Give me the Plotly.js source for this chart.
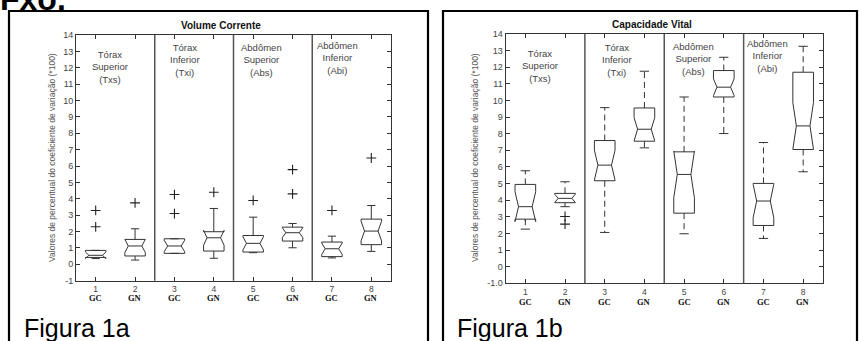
<!DOCTYPE html>
<html><head><meta charset="utf-8">
<script src="https://cdn.plot.ly/plotly-3.0.1.min.js"></script>
<style>html,body{margin:0;padding:0;background:#fff}</style>
</head><body><div id="chart" style="width:860px;height:341px"></div>
<script>
// ---------- data ----------
const categories = [1, 2, 3, 4, 5, 6, 7, 8];
const groupLabels = ['GC', 'GN', 'GC', 'GN', 'GC', 'GN', 'GC', 'GN'];
const yTickVals = [-1, 0, 1, 2, 3, 4, 5, 6, 7, 8, 9, 10, 11, 12, 13, 14];
const vcTickText = ['-1', '0', '1', '2', '3', '4', '5', '6', '7', '8', '9', '10', '11', '12', '13', '14'];
const cvTickText = ['-1.0', '0', '1', '2', '3', '4', '5', '6', '7', '8', '9', '10', '11', '12', '13', '14'];
const regionLabels = ['Tórax<br>Superior<br>(Txs)', 'Tórax<br>Inferior<br>(Txi)', 'Abdômen<br>Superior<br>(Abs)', 'Abdômen<br>Inferior<br>(Abi)'];
const separators = [2.5, 4.5, 6.5];

// Volume Corrente (Figura 1a)
const vcLower  = [0.38, 0.26, 0.67, 0.37, 0.71, 1.01, 0.39, 0.79];
const vcQ1     = [0.42, 0.51, 0.67, 0.81, 0.75, 1.42, 0.47, 1.20];
const vcMedian = [0.55, 1.12, 1.12, 1.62, 1.28, 1.93, 0.95, 2.03];
const vcQ3     = [0.85, 1.52, 1.56, 1.99, 1.76, 2.27, 1.36, 2.76];
const vcUpper  = [0.85, 2.17, 1.56, 3.41, 2.88, 2.49, 1.72, 3.59];
const vcNotch  = [0.20, 0.40, 0.35, 0.45, 0.40, 0.30, 0.35, 0.60];
const vcOutlierX = [1, 1, 2, 3, 3, 4, 5, 6, 6, 7, 8];
const vcOutlierY = [2.29, 3.29, 3.75, 3.10, 4.26, 4.40, 3.90, 4.30, 5.78, 3.29, 6.49];

// Capacidade Vital (Figura 1b)
const cvLower  = [2.26, 3.61, 2.06, 7.15, 1.98, 8.01, 1.70, 5.71];
const cvQ1     = [2.86, 3.85, 5.17, 7.55, 3.22, 10.21, 2.48, 7.05];
const cvMedian = [3.61, 4.11, 6.11, 8.27, 5.55, 10.80, 3.95, 8.47];
const cvQ3     = [4.95, 4.41, 7.59, 9.55, 6.91, 11.80, 5.01, 11.70];
const cvUpper  = [5.77, 5.11, 9.57, 11.76, 10.21, 12.60, 7.47, 13.26];
const cvNotch  = [0.90, 0.25, 0.90, 0.70, 1.40, 0.50, 1.00, 1.40];
const cvOutlierX = [2, 2];
const cvOutlierY = [2.56, 3.02];

// ---------- helpers ----------
const W = 860, H = 341;
const px = v => v / W;
const py = v => 1 - v / H;
const BOXW = 0.52;
const LINE = '#333';

function boxTrace(xa, ya, q1, med, q3, lo, hi, notch, whiskerW) {
  return {
    type: 'box', x: categories, q1: q1, median: med, q3: q3,
    lowerfence: lo, upperfence: hi, notchspan: notch, notched: true,
    notchwidth: 0.17, width: BOXW, whiskerwidth: whiskerW,
    line: { color: LINE, width: 1 }, fillcolor: 'rgba(255,255,255,0)',
    boxpoints: false, xaxis: xa, yaxis: ya, showlegend: false, hoverinfo: 'skip'
  };
}
function outlierTrace(xa, ya, xs, ys) {
  return {
    type: 'scatter', mode: 'markers', x: xs, y: ys, xaxis: xa, yaxis: ya,
    marker: { symbol: 'cross-thin-open', size: 7, color: '#222', line: { color: '#222', width: 1.1 } },
    showlegend: false, hoverinfo: 'skip'
  };
}
function dashedWhiskers(xa, ya, q1, q3, lo, hi) {
  const wx = [], wy = [], cx = [], cy = [];
  const h = BOXW * 0.45 / 2;
  categories.forEach((c, i) => {
    wx.push(c, c, null, c, c, null);
    wy.push(q3[i], hi[i], null, q1[i], lo[i], null);
    cx.push(c - h, c + h, null, c - h, c + h, null);
    cy.push(hi[i], hi[i], null, lo[i], lo[i], null);
  });
  return [
    { type: 'scatter', mode: 'lines', x: wx, y: wy, xaxis: xa, yaxis: ya,
      line: { color: LINE, width: 1, dash: '6px,4px' }, showlegend: false, hoverinfo: 'skip' },
    { type: 'scatter', mode: 'lines', x: cx, y: cy, xaxis: xa, yaxis: ya,
      line: { color: LINE, width: 1 }, showlegend: false, hoverinfo: 'skip' }
  ];
}

const data = [
  boxTrace('x', 'y', vcQ1, vcMedian, vcQ3, vcLower, vcUpper, vcNotch, 0.4),
  outlierTrace('x', 'y', vcOutlierX, vcOutlierY),
  boxTrace('x2', 'y2', cvQ1, cvMedian, cvQ3, cvQ1, cvQ3, cvNotch, 0),
  ...dashedWhiskers('x2', 'y2', cvQ1, cvQ3, cvLower, cvUpper),
  outlierTrace('x2', 'y2', cvOutlierX, cvOutlierY)
];

const tickFont = { family: 'Liberation Sans, Arial, sans-serif', size: 9, color: '#444' };
function xAxis(domain, anchor) {
  return {
    domain: domain, anchor: anchor, range: [0.5, 8.5],
    tickvals: categories, ticktext: categories.map(String),
    ticks: 'inside', ticklen: 4, tickcolor: LINE, mirror: 'ticks',
    showline: true, linecolor: LINE, linewidth: 1,
    showgrid: false, zeroline: false,
    tickfont: { family: 'Liberation Sans, Arial, sans-serif', size: 8.5, color: '#444' }, fixedrange: true
  };
}
function yAxis(domain, anchor, text) {
  return {
    domain: domain, anchor: anchor, range: [-1, 14],
    tickvals: yTickVals, ticktext: text,
    ticks: 'inside', ticklen: 4, tickcolor: LINE, mirror: 'ticks',
    showline: true, linecolor: LINE, linewidth: 1,
    showgrid: false, zeroline: false, tickfont: tickFont, fixedrange: true
  };
}

const shapes = [];
// panel frames
shapes.push({ type: 'rect', xref: 'paper', yref: 'paper', x0: px(9), x1: px(428), y0: -0.1, y1: py(11),
  line: { color: '#000', width: 2.2 } });
shapes.push({ type: 'rect', xref: 'paper', yref: 'paper', x0: px(443), x1: px(857), y0: -0.1, y1: py(11),
  line: { color: '#000', width: 2.2 } });
// region separators
[['x', 'y domain'], ['x2', 'y2 domain']].forEach(([xr, yr]) => {
  separators.forEach(s => shapes.push({ type: 'line', xref: xr, yref: yr, x0: s, x1: s, y0: 0, y1: 1,
    line: { color: '#555', width: 1.5 } }));
});

const annotations = [];
function note(o) {
  return Object.assign({ showarrow: false, xanchor: 'center', yanchor: 'middle' }, o);
}
const regFont = { family: 'Liberation Sans, Arial, sans-serif', size: 9.5, color: '#444' };
const vcRegPos = [[1.36, 12.06], [3.27, 12.47], [5.22, 12.47], [7.13, 12.6]];
const cvRegPos = [[1.38, 12.1], [3.31, 12.46], [5.23, 12.5], [7.09, 12.66]];
regionLabels.forEach((t, i) => {
  annotations.push(note({ xref: 'x', yref: 'y', x: vcRegPos[i][0], y: vcRegPos[i][1], text: t, font: regFont }));
  annotations.push(note({ xref: 'x2', yref: 'y2', x: cvRegPos[i][0], y: cvRegPos[i][1], text: t, font: regFont }));
});
// group labels under ticks
const grpFont = { family: 'Liberation Serif, Times New Roman, serif', size: 8.5, color: '#111' };
groupLabels.forEach((g, i) => {
  annotations.push(note({ xref: 'x', yref: 'paper', x: categories[i], y: py(297.5), text: '<b>' + g + '</b>', font: grpFont }));
  annotations.push(note({ xref: 'x2', yref: 'paper', x: categories[i], y: py(301.5), text: '<b>' + g + '</b>', font: grpFont }));
});
// chart titles
const titleFont = { family: 'Liberation Sans, Arial, sans-serif', size: 10, color: '#111' };
annotations.push(note({ xref: 'paper', yref: 'paper', x: px(221), y: py(25), text: '<b>Volume Corrente</b>', font: titleFont }));
annotations.push(note({ xref: 'paper', yref: 'paper', x: px(652), y: py(24.3), text: '<b>Capacidade Vital</b>', font: titleFont }));
// y axis titles
const yTitle = 'Valores de percentual do coeficiente de variação (*100)';
const yTitleFont = { family: 'Liberation Sans, Arial, sans-serif', size: 8.5, color: '#555' };
annotations.push(note({ xref: 'paper', yref: 'paper', x: px(52), y: py(158), text: yTitle, textangle: -90, font: yTitleFont }));
annotations.push(note({ xref: 'paper', yref: 'paper', x: px(475), y: py(158), text: yTitle, textangle: -90, font: yTitleFont }));
// captions
const capFont = { family: 'Liberation Sans, Arial, sans-serif', size: 25, color: '#000' };
annotations.push(note({ xref: 'paper', yref: 'paper', x: px(22), xanchor: 'left', y: py(328), text: 'Figura 1a', font: capFont }));
annotations.push(note({ xref: 'paper', yref: 'paper', x: px(455), xanchor: 'left', y: py(328), text: 'Figura 1b', font: capFont }));
// cropped heading at top
annotations.push(note({ xref: 'paper', yref: 'paper', x: px(-2), xanchor: 'left', y: py(-1), text: '<b>Fxo.</b>',
  font: { family: 'Liberation Sans, Arial, sans-serif', size: 32, color: '#000' } }));

const layout = {
  width: W, height: H, margin: { l: 0, r: 0, t: 0, b: 0 },
  paper_bgcolor: '#fff', plot_bgcolor: '#fff', showlegend: false,
  xaxis: xAxis([px(76), px(391)], 'y'),
  yaxis: yAxis([py(280.7), py(35)], 'x', vcTickText),
  xaxis2: xAxis([px(505.5), px(823)], 'y2'),
  yaxis2: yAxis([py(283.3), py(34)], 'x2', cvTickText),
  shapes: shapes, annotations: annotations
};

Plotly.newPlot('chart', data, layout, { staticPlot: true, displayModeBar: false });
</script></body></html>
